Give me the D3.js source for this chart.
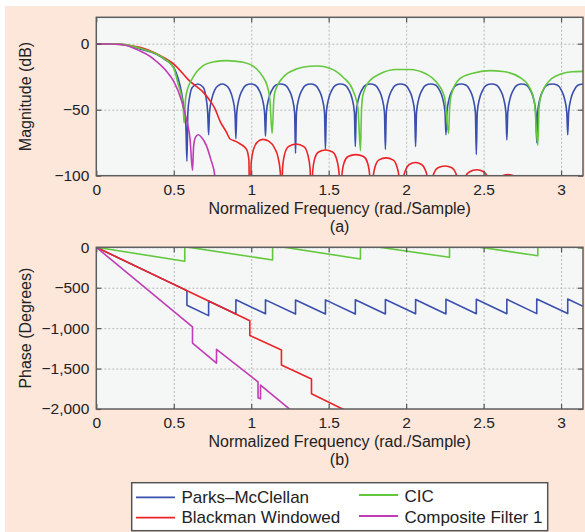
<!DOCTYPE html>
<html>
<head>
<meta charset="utf-8">
<script src="https://cdn.jsdelivr.net/npm/d3@7"></script>
<style>
  body { margin: 0; background: #fff; }
  svg { display: block; font-family: 'Liberation Sans', Arial, Helvetica, sans-serif; }
  .grid line { stroke: #a9a9a9; stroke-width: 0.8; stroke-dasharray: 2,2; }
  .grid path, .axis path { display: none; }
  .axis line { stroke: #555; stroke-width: 1.2; }
</style>
</head>
<body>
<div id="chart"></div>
<script>
// tick values
const freqTicks = [0, 0.5, 1, 1.5, 2, 2.5, 3]
const magTicks = [-100, -50, 0]
const phaseTicks = [-2000, -1500, -1000, -500, 0]

const names = ['Parks–McClellan', 'Blackman Windowed', 'CIC', 'Composite Filter 1']
const colors = ['#3b4fae', '#ec2327', '#63c83d', '#c13cb5']

// magnitude (dB): [freq, dB]
const pmMag = [
  [0, 0], [0.1, -0.2], [0.174, -0.8], [0.282, -4], [0.389, -8], [0.443, -12], [0.5, -18],
  [0.53, -27], [0.55, -37], [0.565, -48], [0.578, -62], [0.585, -89],
  [0.591, -52], [0.603, -40], [0.62, -33], [0.655, -30.5], [0.69, -33], [0.707, -40], [0.719, -52], [0.725, -69],
  [0.731, -52], [0.745, -42], [0.765, -35], [0.79, -31.5], [0.813, -30.5], [0.836, -31.5], [0.861, -35], [0.881, -42], [0.895, -52], [0.901, -72],
  [0.907, -52], [0.921, -42], [0.941, -35.5], [0.966, -31.5], [0.997, -30.5], [1.027, -31.5], [1.052, -35.5], [1.072, -42], [1.086, -52], [1.092, -70],
  [1.098, -52], [1.112, -42], [1.132, -35.5], [1.157, -31.5], [1.189, -30.5], [1.221, -31.5], [1.246, -35.5], [1.266, -42], [1.28, -52], [1.286, -83],
  [1.292, -52], [1.306, -42], [1.326, -35.5], [1.351, -31.5], [1.383, -30.5], [1.414, -31.5], [1.439, -35.5], [1.459, -42], [1.473, -52], [1.479, -80],
  [1.485, -52], [1.499, -42], [1.519, -35.5], [1.544, -31.5], [1.576, -30.5], [1.607, -31.5], [1.632, -35.5], [1.652, -42], [1.666, -52], [1.672, -78],
  [1.678, -52], [1.692, -42], [1.712, -35.5], [1.737, -31.5], [1.769, -30.5], [1.801, -31.5], [1.826, -35.5], [1.846, -42], [1.86, -52], [1.866, -80],
  [1.872, -52], [1.886, -42], [1.906, -35.5], [1.931, -31.5], [1.964, -30.5], [1.996, -31.5], [2.021, -35.5], [2.041, -42], [2.055, -52], [2.061, -78],
  [2.067, -52], [2.081, -42], [2.101, -35.5], [2.126, -31.5], [2.159, -30.5], [2.192, -31.5], [2.217, -35.5], [2.237, -42], [2.251, -52], [2.257, -69],
  [2.263, -52], [2.277, -42], [2.297, -35.5], [2.322, -31.5], [2.355, -30.5], [2.388, -31.5], [2.413, -35.5], [2.433, -42], [2.447, -52], [2.453, -84],
  [2.459, -52], [2.473, -42], [2.493, -35.5], [2.518, -31.5], [2.552, -30.5], [2.585, -31.5], [2.61, -35.5], [2.63, -42], [2.644, -52], [2.65, -73],
  [2.656, -52], [2.67, -42], [2.69, -35.5], [2.715, -31.5], [2.747, -30.5], [2.778, -31.5], [2.803, -35.5], [2.823, -42], [2.837, -52], [2.843, -75],
  [2.849, -52], [2.863, -42], [2.883, -35.5], [2.908, -31.5], [2.943, -30.5], [2.978, -31.5], [3.003, -35.5], [3.023, -42], [3.037, -52], [3.043, -69],
  [3.049, -52], [3.063, -42], [3.083, -35.5], [3.108, -31.5], [3.1416, -30.5]
]

const bwMag = [
  [0, 0], [0.1, -0.1], [0.2, -1], [0.282, -2.8], [0.389, -7.5], [0.443, -11], [0.5, -15.4],
  [0.6, -28], [0.7, -38], [0.733, -43], [0.765, -49], [0.8, -59], [0.84, -67], [0.862, -72],
  [0.9, -74], [0.927, -75.8], [0.97, -80], [0.985, -88], [0.991, -140],
  [1.0, -90], [1.015, -80], [1.04, -74.5], [1.075, -72.5], [1.115, -74], [1.15, -79], [1.175, -87], [1.188, -98], [1.195, -140],
  [1.202, -95], [1.215, -84], [1.24, -78], [1.29, -76], [1.34, -78], [1.365, -84], [1.38, -95], [1.389, -140],
  [1.396, -98], [1.41, -87], [1.435, -82], [1.48, -80.5], [1.525, -82], [1.55, -87], [1.567, -98], [1.576, -140],
  [1.585, -100], [1.6, -90], [1.625, -85.5], [1.675, -84], [1.725, -85.5], [1.75, -90], [1.765, -100], [1.776, -140],
  [1.786, -102], [1.8, -93], [1.825, -88], [1.87, -86.5], [1.915, -88], [1.94, -93], [1.955, -102], [1.969, -140],
  [1.98, -104], [1.995, -96], [2.02, -91.5], [2.06, -90], [2.1, -91.5], [2.125, -96], [2.14, -104], [2.152, -140],
  [2.165, -105], [2.18, -98], [2.205, -94], [2.25, -92.6], [2.295, -94], [2.32, -98], [2.333, -105], [2.345, -140],
  [2.36, -108], [2.38, -101], [2.41, -97], [2.455, -95.5], [2.5, -97], [2.525, -101], [2.54, -108], [2.55, -140],
  [2.6, -102], [2.63, -99.7], [2.656, -99.2], [2.685, -99.7], [2.71, -102], [2.75, -140],
  [2.9, -115], [3.1416, -120]
]

const cicMag = [
  [0, 0], [0.1, -0.1], [0.174, -0.5], [0.282, -3.5], [0.389, -7.8], [0.443, -11.6], [0.5, -18.5],
  [0.529, -31], [0.55, -40], [0.562, -50], [0.567, -60],
  [0.576, -42], [0.583, -37], [0.625, -25.4], [0.69, -16.6], [0.765, -13.6], [0.84, -12.8], [0.948, -14],
  [1.034, -19], [1.075, -25], [1.099, -30.5], [1.12, -42], [1.135, -68],
  [1.146, -42], [1.152, -37], [1.206, -25.4], [1.292, -19.2], [1.378, -17.1], [1.43, -16.9], [1.507, -18.6],
  [1.593, -25.4], [1.657, -35.5], [1.689, -49], [1.705, -81],
  [1.712, -50], [1.721, -39], [1.765, -28], [1.829, -23], [1.937, -19.6], [2.02, -19.6], [2.13, -23],
  [2.195, -29], [2.248, -40.5], [2.274, -68],
  [2.281, -48], [2.291, -39], [2.345, -26.7], [2.431, -22.4], [2.538, -20.4], [2.624, -21], [2.732, -25.4],
  [2.796, -33], [2.828, -44], [2.85, -77],
  [2.858, -48], [2.872, -39], [2.925, -28], [3.0, -23], [3.07, -21.3], [3.1416, -21]
]

const cf1Mag = [
  [0, 0], [0.1, -0.2], [0.174, -0.8], [0.282, -5.5], [0.346, -9.5], [0.389, -13.5], [0.454, -21],
  [0.5, -28.5], [0.55, -43], [0.583, -58], [0.605, -72], [0.621, -96],
  [0.628, -78], [0.64, -71], [0.658, -69], [0.68, -71], [0.71, -77], [0.74, -88], [0.765, -100], [0.776, -130]
]

// phase (degrees)
const pmPhase = [
  [0, 0], [0.585, -536], [0.585, -716], [0.725, -845], [0.725, -665], [0.901, -826], [0.901, -648],
  [1.092, -823], [1.092, -650], [1.286, -826], [1.286, -652], [1.479, -826], [1.479, -650],
  [1.672, -826], [1.672, -648], [1.866, -825], [1.866, -646], [2.061, -823], [2.061, -645],
  [2.257, -825], [2.257, -643], [2.453, -822], [2.453, -642], [2.65, -822], [2.65, -642],
  [2.843, -820], [2.843, -640], [3.043, -820], [3.043, -640], [3.1416, -730]
]
const bwPhase = [
  [0, 0], [0.991, -908], [0.991, -1092], [1.195, -1270], [1.195, -1455],
  [1.389, -1630], [1.389, -1812], [1.6, -2010]
]
const cicPhase = [
  [0, 0], [0.571, -172], [0.571, 8], [1.138, -157], [1.138, 23], [1.705, -145], [1.705, 35],
  [2.28, -124], [2.28, 56], [2.85, -104], [2.85, 76], [3.1416, -10]
]
const cf1Phase = [
  [0, 0], [0.621, -985], [0.621, -1185], [0.776, -1432], [0.776, -1262], [1.044, -1665],
  [1.044, -1862], [1.06, -1874], [1.06, -1705], [1.25, -2005]
]

const width = 585
const height = 532
const fontStack = "'Liberation Sans', Arial, Helvetica, sans-serif"

const svg = d3
  .select('#chart')
  .append('svg')
  .attr('width', width)
  .attr('height', height)

// page backdrop
svg.append('rect').attr('x', 5).attr('y', 6).attr('width', width - 5).attr('height', height - 6).attr('fill', '#fde7db')

const xPositionScale = d3.scaleLinear().domain([0, Math.PI]).range([96.3, 583])
const yMagScale = d3.scaleLinear().domain([-100, 20]).range([175.7, 17.3])
const yPhaseScale = d3.scaleLinear().domain([-2000, 0]).range([409, 247.3])

const fmtY = d => (d === 0 ? '0' : '\u2212' + d3.format(',')(-d))

// d3 axis puts font attrs on the group, so override them afterwards
function styleAxis(sel) {
  sel.attr('font-size', 15.5).attr('font-family', fontStack)
  sel.selectAll('text').attr('fill', '#222')
}

function panel(id, yScale, yTicks, datasets, curve, yTitle, caption) {
  const [x0, x1] = xPositionScale.range()
  const [yb, yt] = yScale.range()
  const g = svg.append('g')

  g.append('rect')
    .attr('x', x0).attr('y', yt)
    .attr('width', x1 - x0).attr('height', yb - yt)
    .attr('fill', '#f5f7f6')

  // dashed grid
  g.append('g')
    .attr('class', 'grid')
    .attr('transform', `translate(0,${yb})`)
    .call(d3.axisBottom(xPositionScale).tickValues(freqTicks.slice(1)).tickSize(-(yb - yt)).tickFormat(''))
  g.append('g')
    .attr('class', 'grid')
    .attr('transform', `translate(${x0},0)`)
    .call(d3.axisLeft(yScale).tickValues(yTicks.filter(t => t !== yScale.domain()[0])).tickSize(-(x1 - x0)).tickFormat(''))

  // curves
  svg.append('clipPath').attr('id', id).append('rect')
    .attr('x', x0).attr('y', yt).attr('width', x1 - x0).attr('height', yb - yt)
  const line = d3.line().x(d => xPositionScale(d[0])).y(d => yScale(d[1])).curve(curve)
  const order = [0, 1, 2, 3]
  g.append('g')
    .attr('clip-path', `url(#${id})`)
    .selectAll('path')
    .data(order)
    .enter()
    .append('path')
    .attr('d', i => line(datasets[i]))
    .attr('fill', 'none')
    .attr('stroke', i => colors[i])
    .attr('stroke-width', 1.6)
    .attr('stroke-linejoin', 'round')

  // axes with inward ticks
  g.append('g').attr('class', 'axis').attr('transform', `translate(0,${yb})`)
    .call(d3.axisBottom(xPositionScale).tickValues(freqTicks).tickSize(-5).tickPadding(8).tickFormat(d3.format('')))
    .call(styleAxis)
  g.append('g').attr('class', 'axis').attr('transform', `translate(0,${yt})`)
    .call(d3.axisTop(xPositionScale).tickValues(freqTicks).tickSize(-5).tickFormat(''))
  g.append('g').attr('class', 'axis').attr('transform', `translate(${x0},0)`)
    .call(d3.axisLeft(yScale).tickValues(yTicks).tickSize(-5).tickPadding(7).tickFormat(fmtY))
    .call(styleAxis)
  g.append('g').attr('class', 'axis').attr('transform', `translate(${x1},0)`)
    .call(d3.axisRight(yScale).tickValues(yTicks).tickSize(-5).tickFormat(''))

  g.append('rect')
    .attr('x', x0).attr('y', yt)
    .attr('width', x1 - x0).attr('height', yb - yt)
    .attr('fill', 'none')
    .attr('stroke', '#5e5e5e')
    .attr('stroke-width', 1.5)

  g.append('text')
    .text('Normalized Frequency (rad./Sample)')
    .attr('x', (x0 + x1) / 2)
    .attr('y', yb + 38)
    .attr('text-anchor', 'middle')
    .attr('font-size', 16)
    .attr('fill', '#222')

  g.append('text')
    .text(caption)
    .attr('x', (x0 + x1) / 2)
    .attr('y', yb + 56)
    .attr('text-anchor', 'middle')
    .attr('font-size', 16)
    .attr('fill', '#222')

  g.append('text')
    .text(yTitle)
    .attr('transform', `translate(31,${(yb + yt) / 2}) rotate(-90)`)
    .attr('text-anchor', 'middle')
    .attr('font-size', 16)
    .attr('fill', '#222')
}

panel('clip-a', yMagScale, magTicks, [pmMag, bwMag, cicMag, cf1Mag], d3.curveMonotoneX, 'Magnitude (dB)', '(a)')
panel('clip-b', yPhaseScale, phaseTicks, [pmPhase, bwPhase, cicPhase, cf1Phase], d3.curveLinear, 'Phase (Degrees)', '(b)')

// legend
const legend = svg.append('g')
legend.append('rect')
  .attr('x', 131.7).attr('y', 482.7)
  .attr('width', 416).attr('height', 48)
  .attr('fill', '#fff')
  .attr('stroke', '#555')
  .attr('stroke-width', 1.5)

const legendPos = [
  { x: 136, ly: 497.3, ty: 503 },
  { x: 136, ly: 517.7, ty: 523 },
  { x: 359, ly: 495, ty: 501.5 },
  { x: 359, ly: 516, ty: 522.5 }
]

const item = legend.selectAll('g.item')
  .data(names)
  .enter()
  .append('g')
  .attr('class', 'item')

item.append('line')
  .attr('x1', (d, i) => legendPos[i].x)
  .attr('x2', (d, i) => legendPos[i].x + 39)
  .attr('y1', (d, i) => legendPos[i].ly)
  .attr('y2', (d, i) => legendPos[i].ly)
  .attr('stroke', (d, i) => colors[i])
  .attr('stroke-width', 1.8)

item.append('text')
  .text(d => d)
  .attr('x', (d, i) => legendPos[i].x + 45.5)
  .attr('y', (d, i) => legendPos[i].ty)
  .attr('font-size', 17)
  .attr('fill', '#222')
</script>
</body>
</html>
